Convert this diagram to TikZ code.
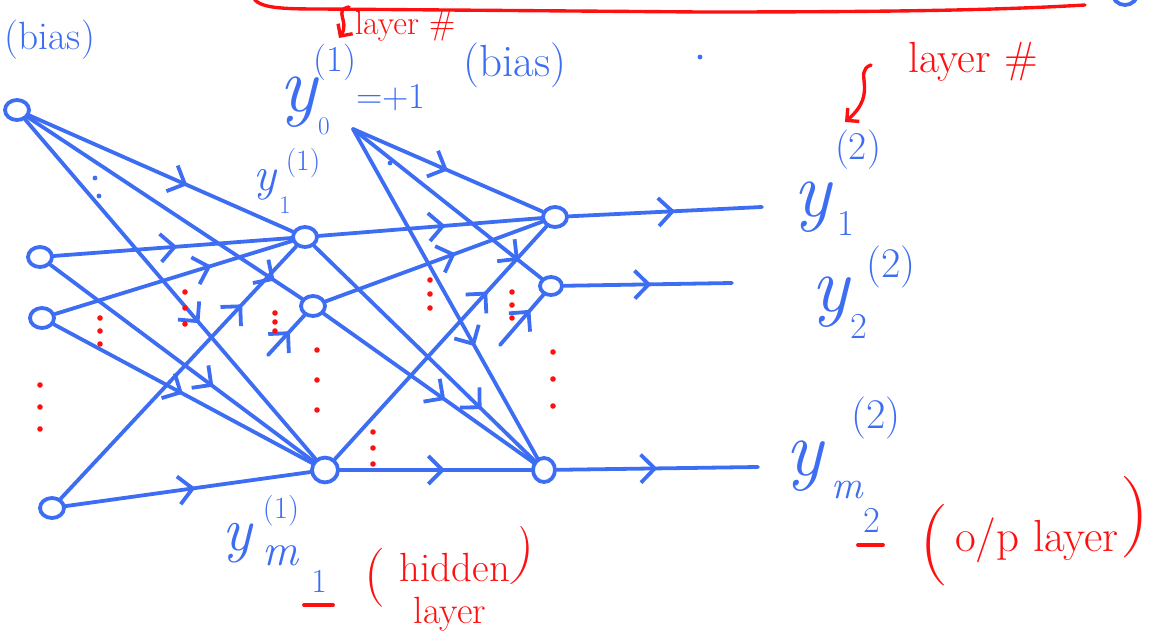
\documentclass[tikz,border=0pt]{standalone}
\usepackage{tikz}
\usetikzlibrary{arrows.meta,decorations.markings,shapes.geometric}
\definecolor{InkBlue}{HTML}{3D6DF2}
\definecolor{InkRed}{HTML}{FF1010}

\begin{document}
\begin{tikzpicture}[
    x=0.025cm, y=-0.025cm,
    line width=2.7pt, line cap=round, line join=round,
    unit/.style={draw=InkBlue,ellipse,inner sep=0pt,minimum width=0.6cm,minimum height=0.5cm},
    wire/.style={draw=InkBlue},
    flow/.style={postaction={decorate},decoration={markings,mark=at position #1 with {\arrow{Straight Barb[length=3.5mm,width=7mm]}}}},
    flow/.default=0.6,
    sym/.style={text=InkBlue,font=\fontsize{56}{60}\selectfont\itshape,inner sep=0pt},
    idx/.style={text=InkBlue,font=\fontsize{26}{30}\selectfont,inner sep=0pt},
    note/.style={text=InkRed,font=\fontsize{29}{34}\selectfont,inner sep=0pt},
    >=Straight Barb
  ]
  \useasboundingbox (0,0) rectangle (1162,637);
  \clip (0,0) rectangle (1162,637);

  % leftovers of the page above
  \draw[InkRed,line width=2.4pt] (253,-3) .. controls (258,8) and (280,9) .. (320,9)
    -- (700,12) .. controls (900,12) and (1000,10) .. (1085,5);
  \draw[InkBlue] (1125,-8) circle (13);
  \node[idx,font=\fontsize{28}{32}\selectfont,anchor=west] (bias0) at (3,40) {(bias)};

  % input layer
  \node[unit] (b0) at (17,110) {};
  \node[unit] (x1) at (40,257) {};
  \node[unit] (x2) at (42,318) {};
  \node[unit] (xn) at (52,508) {};

  % hidden layer
  \coordinate (hb) at (353,129);
  \node[unit] (h1) at (305,237) {};
  \node[unit] (h2) at (313,306) {};
  \node[unit,minimum width=0.65cm,minimum height=0.62cm] (hm) at (325,470) {};

  % output layer
  \node[unit] (o1) at (555,217) {};
  \node[unit,minimum width=0.55cm,minimum height=0.45cm] (o2) at (551,286) {};
  \node[unit,minimum width=0.55cm,minimum height=0.6cm] (om) at (544,470) {};
  \coordinate (e1) at (762,207);
  \coordinate (e2) at (732,283);
  \coordinate (em) at (758,467);
  \coordinate (s1) at (268,355);
  \coordinate (s2) at (500,345);

  % weights
  \foreach \a/\b/\p in {b0/h1/0.6, b0/h2/0.9, b0/hm/0.6, x1/h1/0.52, x1/hm/0.62,
      x2/h1/0.66, x2/hm/0.5, xn/h1/0.77, xn/hm/0.53, s1/h2/0.6,
      hb/o1/0.5, hb/o2/0.88, hb/om/0.66, h1/o1/0.57, h1/om/0.76,
      h2/o1/0.6, h2/om/0.58, hm/o1/0.72, hm/om/0.55, s2/o2/0.7,
      o1/e1/0.55, o2/e2/0.52, om/em/0.5}
    \draw[wire,flow=\p] (\a) -- (\b);

  % skipped units
  \foreach \x/\y/\d in {40/385/22, 100/318/13, 185/292/16, 275/313/9, 317/350/30,
      373/432/16, 430/280/14, 512/292/13, 553/352/27}
    \foreach \k in {0,1,2}
      \fill[InkRed] (\x,\y+\k*\d) circle (2.8);
  \fill[InkBlue] (95,178) circle (2.4) (99,196) circle (2.4) (390,163) circle (2.4) (700,57) circle (2.4);

  % hidden labels
  \node[sym] (yb) at (298,102) {y};
  \node[idx,font=\fontsize{18}{20}\selectfont] (yb0) at (324,126) {0};
  \node[idx] (yb1) at (335,62) {(1)};
  \node[idx] (ybv) at (391,98) {=+1};
  \node[idx,font=\fontsize{32}{36}\selectfont] (bias1) at (515,65) {(bias)};
  \node[sym,font=\fontsize{34}{38}\selectfont\itshape] (y1) at (265,185) {y};
  \node[idx,font=\fontsize{18}{20}\selectfont] (y11) at (285,205) {1};
  \node[idx,font=\fontsize{21}{24}\selectfont] (y1s) at (303,163) {(1)};
  \node[sym,font=\fontsize{44}{48}\selectfont\itshape] (ym) at (237,543) {y};
  \node[idx,font=\fontsize{22}{26}\selectfont] (yms) at (281,511) {(1)};
  \node[idx,font=\fontsize{32}{36}\selectfont\itshape] (ymm) at (280,556) {m};
  \node[idx,font=\fontsize{24}{28}\selectfont] (ym1) at (319,581) {1};
  \draw[InkRed] (304,605) -- (333,605);

  % output labels
  \node[sym] (z1) at (812,207) {y};
  \node[idx] (z11) at (846,223) {1};
  \node[idx,font=\fontsize{28}{32}\selectfont] (z1s) at (858,150) {(2)};
  \node[sym] (z2) at (830,302) {y};
  \node[idx] (z22) at (859,326) {2};
  \node[idx,font=\fontsize{30}{34}\selectfont] (z2s) at (891,267) {(2)};
  \node[sym] (zm) at (804,466) {y};
  \node[idx,font=\fontsize{30}{34}\selectfont] (zms) at (876,418) {(2)};
  \node[idx,font=\fontsize{28}{32}\selectfont\itshape] (zmm) at (847,490) {m};
  \node[idx] (zm2) at (872,520) {2};
  \draw[InkRed] (858,545) -- (883,545);

  % layer notes
  \node[note,font=\fontsize{42}{46}\selectfont] (hl) at (375,578) {(};
  \node[note] (hid) at (455,568) {hidden};
  \node[note,font=\fontsize{42}{46}\selectfont,rotate=-10] (hr) at (523,557) {)};
  \node[note,font=\fontsize{27}{30}\selectfont] (hlay) at (450,614) {layer};
  \node[note,font=\fontsize{58}{62}\selectfont] (ol) at (934,545) {(};
  \node[note,font=\fontsize{32}{36}\selectfont] (olay) at (1037,540) {o/p layer};
  \node[note,font=\fontsize{58}{62}\selectfont] (or) at (1135,517) {)};
  \node[note,font=\fontsize{24}{28}\selectfont] (lay1) at (405,26) {layer \#};
  \draw[InkRed,line width=2.4pt,->] (349,7) .. controls (333,10) and (350,22) .. (339,38);
  \node[note,font=\fontsize{31}{36}\selectfont] (lay2) at (973,62) {layer \#};
  \draw[InkRed,line width=2.4pt,->] (871,65) .. controls (852,72) and (880,92) .. (845,122);
\end{tikzpicture}
\end{document}
